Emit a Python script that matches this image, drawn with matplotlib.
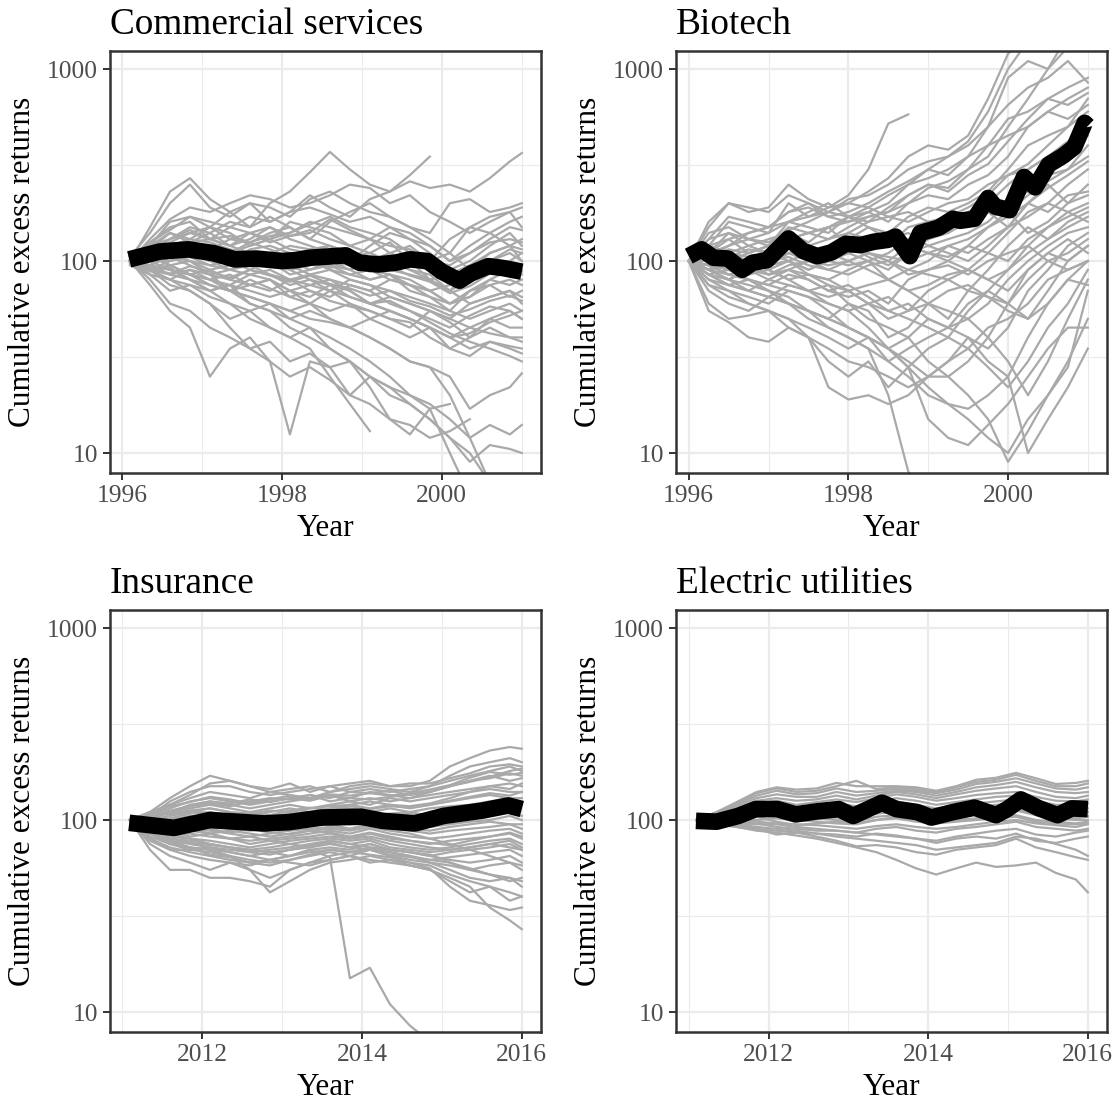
import numpy as np
import matplotlib
matplotlib.use("Agg")
import matplotlib.pyplot as plt

plt.rcParams['font.family'] = ['Liberation Serif', 'DejaVu Serif']

nan = np.nan

# ---------------- Commercial services (1996-2001) ----------------
cs_years = [1996.1, 1996.35, 1996.6, 1996.85, 1997.1, 1997.35, 1997.6, 1997.85, 1998.1, 1998.35, 1998.6,
            1998.85, 1999.1, 1999.35, 1999.6, 1999.85, 2000.1, 2000.35, 2000.6, 2000.85, 2001.0]
cs_lines = [
    [100, 150, 230, 270, 210, 180, 150, 200, 230, 290, 370, 300, 250, 230, 260, 240, 250, 230, 270, 330, 365],
    [105, 140, 200, 250, 190, 170, 200, 160, 180, 220, 190, 170, 210, 230, 280, 350, nan, nan, nan, nan, nan],
    [100, 120, 160, 170, 150, 180, 200, 190, 170, 210, 230, 200, 180, 170, 150, 140, 200, 210, 180, 190, 200],
    [100, 110, 130, 150, 140, 160, 150, 170, 150, 130, 160, 180, 200, 170, 150, 130, 110, 150, 170, 180, 150],
    [98, 115, 140, 130, 150, 140, 120, 130, 160, 150, 140, 120, 130, 110, 120, 100, 130, 150, 140, 120, 130],
    [102, 125, 150, 160, 130, 120, 140, 150, 130, 120, 110, 100, 120, 140, 130, 110, 90, 100, 120, 140, 120],
    [100, 95, 110, 120, 110, 100, 115, 120, 110, 100, 95, 90, 100, 110, 100, 80, 70, 90, 110, 120, 100],
    [100, 105, 100, 110, 100, 90, 100, 105, 90, 95, 110, 100, 90, 85, 80, 70, 75, 80, 90, 100, 110],
    [97, 90, 95, 100, 85, 80, 90, 100, 95, 85, 80, 75, 70, 80, 75, 65, 60, 70, 80, 75, 80],
    [100, 90, 85, 90, 80, 75, 85, 80, 70, 75, 80, 70, 60, 65, 60, 55, 50, 60, 65, 70, 60],
    [95, 85, 80, 75, 70, 75, 70, 65, 70, 60, 55, 60, 50, 55, 50, 45, 40, 45, 50, 55, 50],
    [100, 85, 70, 75, 65, 60, 55, 60, 50, 55, 50, 45, 50, 45, 40, 45, 35, 40, 45, 40, 38],
    [100, 80, 60, 55, 45, 40, 35, 38, 30, 33, 28, 30, 25, 22, 20, 17, 10, 6, nan, nan, nan],
    [100, 75, 55, 45, 25, 35, 40, 30, 25, 28, 24, 20, 18, 15, 14, 12, 13, 15, nan, nan, nan],
    [102, 90, 80, 70, 60, 45, 35, 30, 12.5, 30, 28, 20, 25, 22, 18, 15, 12, 10, 7, nan, nan],
    [100, 95, 90, 80, 70, 60, 50, 45, 40, 35, 25, 18, 13, nan, nan, nan, nan, nan, nan, nan, nan],
    [100, 105, 95, 85, 75, 70, 60, 55, 45, 40, 35, 30, 22, 15, 12.5, 17, 18, nan, nan, nan, nan],
    [100, 90, 75, 70, 60, 50, 55, 45, 40, 45, 35, 30, 25, 20, 18, 15, 12, 9, 11, 10.5, 10],
    [100, 95, 85, 80, 70, 75, 60, 55, 50, 45, 40, 35, 30, 25, 20, 18, 15, 12, 14, 12.5, 14],
    [100, 100, 90, 85, 80, 70, 65, 60, 55, 60, 50, 45, 40, 35, 30, 28, 25, 17, 20, 22, 26],
    [100, 105, 110, 120, 115, 105, 100, 95, 90, 80, 75, 70, 60, 55, 50, 45, 40, 35, 38, 36, 35],
    [100, 110, 105, 100, 95, 100, 90, 85, 80, 75, 70, 80, 75, 65, 60, 55, 50, 45, 42, 40, 40],
    [100, 115, 120, 130, 125, 115, 110, 100, 95, 100, 90, 85, 80, 85, 70, 65, 55, 50, 55, 60, 55],
    [100, 120, 130, 140, 130, 135, 125, 140, 150, 130, 120, 110, 100, 90, 85, 80, 70, 60, 65, 70, 65],
    [100, 100, 115, 110, 105, 95, 100, 110, 120, 115, 100, 95, 90, 100, 95, 90, 75, 85, 100, 110, 100],
    [100, 125, 145, 170, 160, 150, 170, 160, 180, 190, 175, 160, 170, 150, 130, 120, 100, 110, 130, 150, 145],
    [100, 130, 165, 190, 180, 200, 220, 210, 190, 200, 220, 250, 240, 200, 220, 180, 160, 140, 160, 180, 190],
    [100, 105, 125, 140, 150, 130, 125, 135, 140, 155, 170, 150, 140, 130, 110, 100, 110, 90, 100, 115, 110],
    [100, 90, 100, 105, 95, 90, 85, 90, 80, 85, 90, 80, 75, 70, 65, 60, 55, 70, 75, 65, 70],
    [100, 110, 95, 85, 90, 80, 75, 70, 80, 70, 65, 75, 70, 60, 55, 50, 45, 52, 58, 55, 50],
    [100, 95, 105, 95, 85, 90, 95, 85, 75, 80, 70, 65, 60, 62, 55, 48, 42, 38, 35, 32, 30],
    [100, 100, 120, 110, 100, 110, 120, 130, 115, 110, 120, 105, 110, 100, 90, 80, 85, 95, 90, 85, 90],
    [105, 120, 110, 125, 130, 150, 140, 130, 140, 160, 150, 140, 130, 120, 115, 100, 95, 110, 125, 130, 125],
    [100, 90, 80, 90, 85, 70, 75, 80, 65, 60, 70, 60, 55, 50, 45, 55, 48, 40, 50, 45, 45],
    [100, 95, 90, 85, 75, 70, 65, 60, 55, 50, 48, 45, 40, 35, 30, 28, 20, 12, 7, nan, nan],
    [100, 115, 130, 145, 130, 120, 110, 105, 100, 90, 95, 85, 90, 80, 75, 70, 60, 65, 80, 90, 85],
    [100, 110, 120, 115, 105, 110, 125, 115, 105, 115, 120, 110, 95, 100, 90, 85, 70, 80, 95, 100, 95],
    [100, 95, 110, 100, 90, 95, 105, 100, 85, 90, 100, 90, 80, 85, 75, 70, 60, 65, 75, 80, 75],
    [100, 120, 140, 125, 115, 130, 140, 125, 135, 145, 130, 120, 110, 125, 100, 95, 85, 95, 110, 120, 115],
    [100, 90, 95, 85, 80, 85, 75, 80, 70, 65, 75, 65, 60, 55, 50, 45, 40, 42, 48, 52, 55],
    [100, 105, 115, 125, 140, 120, 130, 150, 135, 140, 165, 145, 130, 150, 140, 120, 100, 120, 140, 160, 170],
    [100, 88, 92, 80, 75, 70, 80, 72, 65, 70, 62, 58, 55, 50, 48, 40, 35, 32, 38, 35, 33],
    [100, 112, 105, 118, 108, 98, 110, 104, 96, 102, 92, 98, 88, 94, 84, 78, 68, 74, 86, 92, 88],
    [100, 92, 86, 94, 88, 82, 90, 84, 78, 84, 76, 72, 66, 70, 62, 58, 52, 56, 62, 66, 62],
]
cs_mean_years = [1996.09, 1996.47, 1996.83, 1997.14, 1997.41, 1997.68, 1997.99, 1998.17, 1998.35, 1998.8,
                 1998.97, 1999.2, 1999.42, 1999.6, 1999.82, 2000.0, 2000.22, 2000.36, 2000.58, 2000.76, 2001.0]
cs_mean = [102, 112, 115, 110, 102, 103, 100, 101, 104, 107, 98, 96, 98, 102, 100, 88, 79, 86, 94, 92, 88]

# ---------------- Biotech (1996-2001) ----------------
bt_years = [1996.0, 1996.25, 1996.5, 1996.75, 1997.0, 1997.25, 1997.5, 1997.75, 1998.0, 1998.25, 1998.5,
            1998.75, 1999.0, 1999.25, 1999.5, 1999.75, 2000.0, 2000.25, 2000.5, 2000.75, 2001.0]
bt_lines = [
    [100, 150, 200, 180, 190, 250, 210, 190, 200, 230, 270, 350, 400, 380, 450, 700, 1200, 1500, 2000, 2500, 3000],
    [100, 120, 160, 150, 140, 200, 170, 180, 210, 220, 250, 300, 330, 350, 400, 500, 900, 1100, 1000, 1300, 1600],
    [100, 110, 120, 140, 150, 160, 170, 190, 220, 300, 520, 580, nan, nan, nan, nan, nan, nan, nan, nan, nan],
    [100, 110, 130, 140, 150, 180, 200, 170, 160, 180, 200, 250, 300, 280, 350, 500, 650, 800, 900, 1100, 850],
    [100, 105, 120, 130, 140, 160, 150, 140, 170, 160, 190, 220, 250, 240, 300, 400, 550, 600, 700, 650, 750],
    [100, 90, 110, 120, 130, 140, 125, 150, 170, 180, 160, 200, 220, 210, 250, 280, 350, 500, 600, 550, 650],
    [100, 95, 100, 110, 120, 130, 120, 110, 130, 150, 140, 170, 190, 180, 200, 230, 300, 400, 450, 500, 600],
    [100, 100, 90, 85, 100, 110, 105, 120, 140, 130, 120, 150, 160, 140, 180, 200, 250, 300, 350, 420, 480],
    [100, 85, 80, 90, 95, 100, 90, 100, 110, 100, 90, 110, 120, 130, 140, 160, 200, 230, 280, 300, 400],
    [100, 80, 75, 70, 80, 90, 85, 80, 90, 100, 80, 90, 100, 120, 110, 130, 150, 170, 200, 250, 300],
    [100, 90, 85, 80, 75, 85, 80, 70, 65, 70, 60, 80, 90, 100, 120, 150, 180, 140, 160, 200, 250],
    [100, 75, 70, 65, 60, 70, 65, 60, 55, 60, 50, 55, 70, 80, 90, 110, 140, 180, 200, 180, 200],
    [100, 70, 60, 55, 65, 60, 55, 50, 60, 55, 40, 45, 60, 50, 70, 90, 120, 150, 130, 160, 180],
    [100, 60, 50, 52, 55, 50, 45, 40, 35, 40, 30, 35, 40, 45, 50, 60, 80, 100, 120, 140, 150],
    [100, 55, 48, 40, 38, 45, 40, 30, 25, 30, 22, 28, 35, 40, 55, 70, 60, 90, 110, 100, 120],
    [100, 80, 70, 60, 55, 50, 40, 22, 19, 20, 18, 20, 25, 30, 35, 45, 50, 60, 80, 90, 100],
    [100, 90, 80, 75, 70, 65, 55, 45, 40, 35, 30, 25, 20, 18, 17, 20, 25, 40, 60, 80, 75],
    [100, 85, 75, 70, 65, 60, 50, 45, 40, 35, 20, 8, 6, nan, nan, nan, nan, nan, nan, nan, nan],
    [100, 95, 85, 80, 75, 70, 65, 55, 45, 40, 35, 28, 15, 12, 11, 14, 18, 25, 35, 45, 45],
    [100, 90, 95, 100, 90, 80, 70, 75, 60, 50, 45, 40, 30, 25, 20, 15, 9, 13, 20, 30, 50],
    [100, 110, 100, 95, 85, 90, 80, 70, 75, 65, 55, 60, 50, 45, 40, 30, 25, 10, 15, 22, 35],
    [100, 120, 110, 100, 115, 130, 120, 110, 100, 90, 80, 70, 60, 55, 50, 40, 30, 20, 30, 50, 80],
    [100, 130, 140, 120, 110, 130, 140, 150, 120, 110, 100, 90, 85, 80, 70, 65, 55, 50, 60, 80, 100],
    [100, 140, 150, 130, 125, 145, 160, 180, 170, 150, 130, 120, 110, 100, 90, 80, 90, 110, 130, 150, 170],
    [100, 160, 200, 190, 180, 220, 200, 180, 200, 190, 170, 160, 180, 200, 210, 250, 280, 320, 400, 500, 700],
    [100, 110, 105, 115, 110, 100, 90, 100, 110, 120, 130, 140, 120, 110, 100, 120, 150, 200, 250, 200, 220],
    [100, 90, 80, 90, 100, 105, 95, 90, 100, 110, 100, 120, 110, 105, 120, 110, 100, 130, 150, 180, 160],
    [100, 100, 110, 90, 85, 95, 100, 90, 85, 95, 100, 85, 90, 95, 85, 100, 110, 120, 100, 110, 130],
    [100, 85, 90, 100, 90, 80, 85, 80, 70, 75, 80, 70, 75, 85, 90, 80, 70, 90, 110, 130, 110],
    [100, 95, 85, 90, 80, 75, 70, 65, 70, 60, 65, 55, 60, 70, 75, 65, 60, 80, 100, 90, 100],
    [100, 120, 130, 110, 120, 160, 180, 200, 170, 190, 220, 250, 270, 300, 350, 400, 450, 500, 600, 700, 800],
    [100, 105, 95, 90, 95, 110, 120, 130, 140, 160, 170, 180, 160, 170, 190, 220, 280, 300, 350, 400, 450],
    [100, 95, 90, 85, 90, 100, 110, 100, 95, 100, 110, 130, 140, 150, 170, 200, 180, 220, 260, 300, 350],
    [100, 90, 80, 70, 65, 75, 70, 60, 55, 45, 35, 28, 22, 18, 15, 12, 10, 15, 20, 28, 70],
    [100, 110, 90, 80, 70, 60, 55, 50, 45, 40, 35, 30, 25, 25, 30, 40, 60, 50, 70, 100, 120],
    [100, 130, 170, 160, 150, 180, 190, 170, 180, 200, 230, 260, 300, 350, 420, 600, 1000, 1400, nan, nan, nan],
    [100, 110, 140, 130, 120, 150, 140, 130, 150, 170, 180, 200, 240, 260, 300, 350, 500, 700, 1000, 1500, 2000],
    [100, 95, 105, 100, 95, 110, 100, 95, 100, 110, 105, 100, 110, 120, 130, 150, 170, 200, 180, 220, 230],
    [100, 85, 75, 80, 70, 60, 55, 50, 45, 40, 35, 40, 50, 45, 60, 70, 90, 120, 150, 170, 190],
    [100, 75, 65, 60, 55, 45, 40, 35, 30, 28, 25, 22, 25, 30, 40, 35, 45, 70, 90, 120, 140],
    [100, 105, 115, 110, 120, 130, 140, 150, 160, 170, 180, 220, 250, 230, 280, 320, 420, 550, 700, 800, 900],
    [100, 90, 100, 95, 85, 90, 100, 110, 120, 105, 95, 110, 130, 140, 160, 180, 150, 200, 240, 280, 330],
    [100, 120, 110, 105, 95, 100, 85, 75, 70, 60, 55, 50, 45, 40, 35, 28, 22, 30, 45, 60, 90],
]
bt_mean_years = [1996.0, 1996.16, 1996.31, 1996.49, 1996.67, 1996.8, 1996.98, 1997.25, 1997.43, 1997.61,
                 1997.79, 1997.97, 1998.15, 1998.32, 1998.5, 1998.59, 1998.77, 1998.9, 1999.13, 1999.31,
                 1999.4, 1999.58, 1999.75, 1999.84, 2000.02, 2000.2, 2000.34, 2000.51, 2000.69, 2000.83,
                 2000.96, 2001.0]
bt_mean = [106, 115, 104, 103, 90, 98, 101, 131, 113, 106, 111, 123, 121, 126, 129, 134, 106, 140, 149, 166,
           162, 166, 213, 192, 184, 274, 242, 318, 353, 392, 524, 505]

# ---------------- Insurance (2011-2016) ----------------
in_years = [2011.1, 2011.35, 2011.6, 2011.85, 2012.1, 2012.35, 2012.6, 2012.85, 2013.1, 2013.35, 2013.6,
            2013.85, 2014.1, 2014.35, 2014.6, 2014.85, 2015.1, 2015.35, 2015.6, 2015.85, 2016.0]
in_lines = [
    [100, 110, 130, 150, 170, 160, 150, 140, 145, 150, 140, 150, 155, 150, 150, 160, 190, 210, 230, 240, 235],
    [100, 105, 125, 140, 150, 150, 140, 135, 140, 145, 150, 140, 145, 140, 145, 150, 170, 190, 200, 210, 200],
    [100, 110, 120, 130, 140, 135, 130, 140, 135, 130, 140, 145, 150, 145, 140, 150, 160, 170, 180, 190, 180],
    [100, 105, 115, 125, 130, 125, 120, 125, 130, 135, 125, 130, 140, 135, 130, 140, 150, 160, 170, 160, 165],
    [100, 100, 110, 120, 125, 120, 115, 120, 125, 130, 135, 125, 130, 125, 130, 135, 140, 145, 150, 155, 150],
    [100, 105, 110, 115, 120, 115, 110, 115, 120, 115, 120, 125, 120, 130, 125, 130, 135, 140, 145, 140, 140],
    [100, 100, 105, 110, 115, 110, 105, 110, 115, 110, 115, 120, 125, 120, 115, 120, 125, 130, 135, 130, 130],
    [100, 98, 102, 108, 110, 105, 100, 105, 108, 110, 112, 115, 110, 115, 110, 115, 118, 120, 125, 130, 125],
    [100, 95, 100, 105, 102, 100, 98, 100, 105, 100, 105, 108, 110, 105, 108, 105, 110, 115, 118, 120, 120],
    [100, 95, 95, 100, 98, 95, 92, 95, 98, 100, 102, 100, 105, 100, 100, 98, 100, 105, 108, 110, 105],
    [100, 92, 90, 95, 92, 90, 88, 90, 92, 95, 98, 95, 100, 95, 95, 92, 95, 98, 100, 105, 100],
    [100, 90, 88, 90, 88, 85, 82, 85, 88, 90, 92, 90, 95, 90, 88, 85, 88, 90, 92, 95, 90],
    [100, 88, 85, 85, 82, 80, 78, 80, 82, 85, 88, 85, 90, 85, 82, 80, 82, 85, 88, 90, 85],
    [100, 90, 82, 80, 78, 75, 72, 75, 78, 80, 82, 80, 85, 80, 78, 75, 78, 80, 82, 85, 80],
    [100, 85, 80, 78, 75, 72, 70, 72, 75, 78, 80, 78, 80, 75, 72, 70, 72, 75, 78, 80, 75],
    [100, 85, 78, 75, 72, 70, 68, 70, 72, 75, 78, 75, 78, 72, 70, 68, 70, 72, 75, 78, 72],
    [100, 82, 75, 72, 70, 68, 65, 68, 70, 72, 75, 72, 75, 70, 68, 65, 68, 70, 72, 75, 70],
    [100, 80, 72, 68, 65, 62, 60, 62, 65, 68, 70, 68, 72, 68, 65, 62, 64, 66, 68, 70, 65],
    [100, 78, 70, 65, 62, 60, 58, 62, 65, 70, 72, 70, 75, 70, 68, 65, 62, 60, 62, 65, 60],
    [100, 75, 65, 60, 55, 60, 55, 50, 55, 60, 62, 65, 70, 68, 65, 60, 58, 55, 58, 60, 55],
    [100, 70, 55, 55, 50, 50, 48, 45, 55, 60, 65, 68, 70, 65, 62, 60, 55, 50, 48, 50, 48],
    [100, 85, 75, 70, 68, 65, 55, 42, 48, 55, 60, 62, 65, 62, 60, 58, 52, 48, 45, 42, 40],
    [100, 80, 70, 70, 72, 68, 65, 62, 60, 58, 62, 65, 60, 62, 58, 55, 48, 42, 45, 38, 40],
    [100, 85, 78, 72, 70, 65, 62, 60, 62, 65, 68, 65, 62, 60, 58, 55, 50, 45, 35, 30, 27],
    [100, 90, 85, 80, 75, 72, 70, 68, 65, 70, 64, 15, 17, 11, 8.5, 7, nan, nan, nan, nan, nan],
    [100, 105, 120, 135, 155, 160, 150, 145, 155, 140, 150, 155, 160, 150, 155, 155, 165, 175, 190, 195, 190],
    [100, 102, 112, 118, 122, 118, 125, 130, 128, 135, 130, 140, 138, 142, 135, 140, 150, 160, 165, 175, 170],
    [100, 96, 98, 92, 95, 100, 95, 90, 95, 100, 95, 90, 95, 92, 90, 88, 92, 95, 98, 95, 95],
    [100, 92, 85, 88, 85, 80, 82, 78, 80, 82, 85, 80, 82, 78, 75, 72, 70, 72, 75, 72, 70],
    [100, 95, 92, 90, 85, 88, 85, 82, 85, 88, 90, 88, 92, 88, 85, 80, 75, 70, 65, 60, 58],
    [100, 105, 108, 112, 115, 110, 108, 112, 110, 115, 118, 120, 115, 120, 118, 122, 130, 140, 150, 145, 155],
    [100, 98, 100, 102, 98, 95, 100, 102, 98, 100, 105, 102, 105, 108, 110, 105, 110, 115, 120, 125, 120],
    [100, 92, 88, 82, 85, 80, 75, 78, 75, 72, 78, 75, 72, 70, 68, 66, 60, 55, 52, 50, 45],
    [100, 104, 110, 118, 125, 122, 128, 124, 130, 126, 134, 130, 128, 132, 136, 140, 150, 158, 168, 180, 185],
    [100, 94, 92, 96, 90, 86, 90, 86, 84, 88, 86, 82, 86, 82, 78, 76, 74, 78, 82, 86, 82],
    [100, 86, 76, 72, 66, 64, 60, 58, 62, 66, 70, 68, 66, 64, 60, 56, 45, 38, 36, 34, 35],
    [100, 98, 106, 112, 108, 104, 110, 106, 112, 116, 112, 118, 114, 118, 116, 120, 126, 132, 138, 134, 140],
    [100, 90, 80, 76, 74, 72, 68, 66, 70, 74, 76, 72, 70, 66, 64, 62, 60, 56, 52, 48, 50],
    [100, 108, 118, 124, 132, 128, 122, 128, 134, 128, 136, 134, 138, 134, 138, 144, 152, 166, 178, 172, 176],
]
in_mean_years = [2011.09, 2011.65, 2012.1, 2012.78, 2013.09, 2013.5, 2013.99, 2014.26, 2014.66, 2015.02,
                 2015.51, 2015.83, 2016.0]
in_mean = [96.7, 91, 100, 96, 97.5, 103, 104, 99, 96, 105, 112, 119, 114]

# ---------------- Electric utilities (2011-2016) ----------------
eu_years = in_years
eu_lines = [
    [100, 95, 92, 88, 86, 83, 80, 76, 72, 68, 62, 56, 52, 56, 60, 57, 58, 60, 53, 49, 42],
    [100, 97, 94, 90, 88, 86, 82, 78, 73, 74, 72, 68, 66, 70, 72, 74, 80, 72, 68, 64, 62],
    [100, 98, 95, 92, 90, 88, 85, 82, 80, 78, 76, 74, 70, 72, 74, 76, 82, 80, 75, 70, 65],
    [100, 96, 92, 90, 84, 86, 85, 84, 82, 85, 83, 80, 76, 80, 82, 80, 85, 78, 76, 80, 82],
    [100, 98, 96, 95, 95, 92, 90, 88, 86, 84, 82, 80, 78, 82, 85, 88, 90, 84, 82, 86, 88],
    [100, 98, 97, 98, 96, 95, 94, 92, 90, 93, 95, 92, 90, 92, 95, 98, 100, 96, 94, 92, 95],
    [100, 99, 98, 100, 102, 100, 98, 96, 95, 100, 102, 98, 96, 100, 102, 104, 106, 100, 98, 96, 98],
    [100, 100, 102, 104, 106, 104, 102, 103, 104, 108, 110, 105, 100, 105, 108, 110, 112, 106, 102, 100, 100],
    [100, 101, 104, 108, 110, 106, 105, 108, 106, 110, 114, 112, 108, 112, 115, 116, 118, 110, 105, 104, 105],
    [100, 102, 106, 110, 112, 110, 108, 112, 110, 114, 118, 115, 112, 115, 118, 120, 122, 118, 110, 108, 110],
    [100, 103, 108, 114, 116, 112, 114, 118, 115, 120, 125, 120, 115, 118, 122, 125, 128, 120, 115, 114, 115],
    [100, 104, 110, 118, 120, 116, 118, 122, 118, 125, 130, 126, 120, 124, 128, 132, 134, 126, 120, 120, 122],
    [100, 105, 112, 122, 126, 120, 124, 128, 124, 130, 136, 132, 126, 130, 135, 138, 140, 132, 126, 125, 128],
    [100, 106, 115, 126, 130, 126, 128, 134, 128, 134, 140, 136, 130, 136, 142, 146, 150, 140, 132, 130, 134],
    [100, 108, 118, 130, 136, 132, 132, 140, 134, 138, 142, 140, 134, 140, 148, 152, 158, 148, 140, 138, 140],
    [100, 108, 120, 134, 142, 136, 138, 146, 140, 142, 145, 142, 138, 144, 154, 158, 165, 155, 146, 144, 148],
    [100, 110, 122, 138, 146, 140, 142, 150, 160, 145, 148, 145, 140, 148, 158, 162, 172, 160, 150, 150, 155],
    [100, 110, 124, 140, 148, 144, 146, 156, 150, 150, 150, 148, 142, 150, 162, 166, 176, 165, 154, 156, 160],
    [100, 104, 108, 112, 108, 104, 102, 100, 98, 104, 106, 104, 100, 104, 108, 110, 114, 108, 104, 102, 104],
    [100, 96, 94, 96, 92, 90, 88, 88, 86, 90, 92, 88, 86, 90, 92, 95, 98, 92, 90, 88, 90],
    [100, 100, 100, 104, 98, 94, 96, 98, 96, 100, 104, 100, 96, 98, 100, 102, 104, 98, 96, 95, 96],
    [100, 102, 104, 108, 108, 104, 106, 110, 106, 112, 116, 112, 108, 110, 112, 116, 118, 112, 108, 108, 110],
]
eu_mean_years = [2011.09, 2011.35, 2011.62, 2011.84, 2012.11, 2012.34, 2012.61, 2012.88, 2013.06, 2013.42,
                 2013.6, 2013.86, 2014.04, 2014.31, 2014.58, 2014.85, 2014.99, 2015.16, 2015.39, 2015.62,
                 2015.8, 2016.0]
eu_mean = [99, 98, 105, 114, 114, 107, 111, 114, 105, 123, 114, 110, 103, 110, 116, 106, 114, 128, 115, 106,
           115, 114]

GRID = '#EBEBEB'
DARK = '#333333'


def draw_panel(ax, years, lines, mean_years, mean, title, xlim, xticks, xminor):
    for vals in lines:
        ax.plot(years, vals, color='#A9A9A9', lw=1.6, zorder=2)
    ax.plot(mean_years, mean, color='black', lw=12, solid_joinstyle='round',
            solid_capstyle='butt', zorder=3)

    ax.set_yscale('log')
    ax.set_ylim(7.87, 1241)
    ax.set_yticks([10, 100, 1000])
    ax.set_yticklabels(['10', '100', '1000'])
    ax.set_yticks([10 ** 1.5, 10 ** 2.5], minor=True)
    ax.yaxis.set_minor_formatter(plt.NullFormatter())
    ax.set_xlim(*xlim)
    ax.set_xticks(xticks)
    ax.set_xticklabels([str(t) for t in xticks])
    ax.set_xticks(xminor, minor=True)

    ax.grid(which='major', color=GRID, lw=1.6)
    ax.grid(which='minor', color=GRID, lw=0.8)
    ax.set_axisbelow(True)
    ax.tick_params(which='major', length=5, width=1.4, color=DARK, labelcolor='#4D4D4D',
                   labelsize=18.4, pad=3.5)
    ax.tick_params(which='minor', length=0)
    for sp in ax.spines.values():
        sp.set_color(DARK)
        sp.set_linewidth(1.8)

    ax.set_title(title, loc='left', fontsize=26.8, pad=12)
    ax.set_xlabel('Year', fontsize=22.5, labelpad=5)
    ax.set_ylabel('Cumulative excess returns', fontsize=22.5, labelpad=7)


fig = plt.figure(figsize=(11.2, 11.03), dpi=100)
W, H = 1120, 1103
pw, ph = 431 / W, 422 / H
ax1 = fig.add_axes([110 / W, 1 - 473 / H, pw, ph])
ax2 = fig.add_axes([676 / W, 1 - 473 / H, pw, ph])
ax3 = fig.add_axes([110 / W, 1 - 1032 / H, pw, ph])
ax4 = fig.add_axes([676 / W, 1 - 1032 / H, pw, ph])

draw_panel(ax1, cs_years, cs_lines, cs_mean_years, cs_mean, 'Commercial services',
           (1995.85, 2001.24), [1996, 1998, 2000], [1997, 1999, 2001])
draw_panel(ax2, bt_years, bt_lines, bt_mean_years, bt_mean, 'Biotech',
           (1995.84, 2001.24), [1996, 1998, 2000], [1997, 1999, 2001])
draw_panel(ax3, in_years, in_lines, in_mean_years, in_mean, 'Insurance',
           (2010.85, 2016.24), [2012, 2014, 2016], [2011, 2013, 2015])
draw_panel(ax4, eu_years, eu_lines, eu_mean_years, eu_mean, 'Electric utilities',
           (2010.84, 2016.24), [2012, 2014, 2016], [2011, 2013, 2015])

fig.savefig('out.png', dpi=100)
